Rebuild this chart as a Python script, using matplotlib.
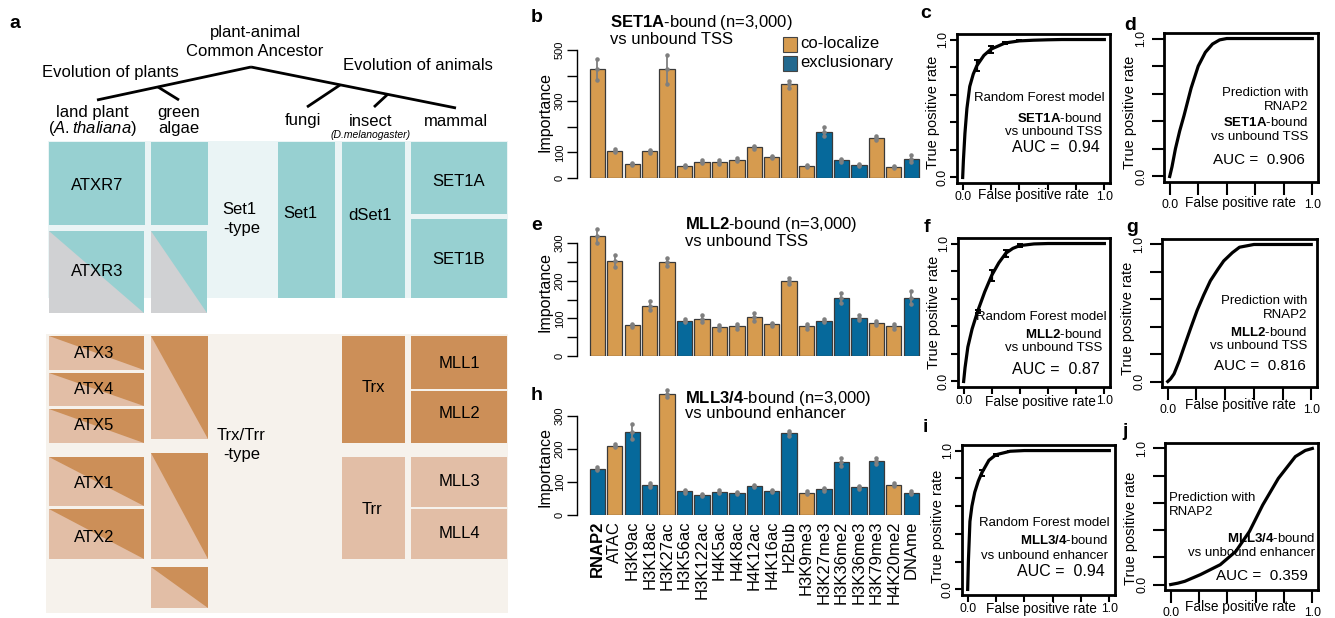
import matplotlib
matplotlib.use('Agg')
import matplotlib.pyplot as plt
import matplotlib.patches as patches

plt.rcParams['font.family'] = ['Liberation Sans', 'DejaVu Sans']
plt.rcParams['mathtext.fontset'] = 'custom'
plt.rcParams['mathtext.rm'] = 'Liberation Sans'
plt.rcParams['mathtext.it'] = 'Liberation Sans:italic'
plt.rcParams['mathtext.bf'] = 'Liberation Sans:bold'

W, H = 1335, 618

# ---- bar chart data (b, e, h) ----
marks = ['RNAP2', 'ATAC', 'H3K9ac', 'H3K18ac', 'H3K27ac', 'H3K56ac', 'H3K122ac',
         'H4K5ac', 'H4K8ac', 'H4K12ac', 'H4K16ac', 'H2Bub', 'H3K9me3', 'H3K27me3',
         'H3K36me2', 'H3K36me3', 'H3K79me3', 'H4K20me2', 'DNAme']

set1a_imp = [424, 107, 56, 104, 424, 47, 64, 61, 72, 120, 82, 366, 47, 181, 69, 51, 155, 44, 76]
set1a_err = [42, 5, 4, 6, 55, 3, 5, 8, 5, 5, 5, 14, 3, 18, 6, 5, 8, 3, 13]
set1a_cls = ['c', 'c', 'c', 'c', 'c', 'c', 'c', 'c', 'c', 'c', 'c', 'c', 'c', 'x', 'x', 'x', 'c', 'c', 'x']

mll2_imp = [319, 251, 82, 134, 249, 94, 99, 76, 79, 103, 84, 200, 79, 94, 154, 102, 88, 79, 155]
mll2_err = [18, 16, 4, 11, 11, 5, 10, 6, 6, 10, 4, 8, 6, 5, 12, 7, 6, 7, 17]
mll2_cls = ['c', 'c', 'c', 'c', 'c', 'x', 'c', 'c', 'c', 'c', 'c', 'c', 'c', 'x', 'x', 'x', 'c', 'c', 'x']

mll34_imp = [141, 210, 253, 92, 367, 72, 62, 71, 67, 88, 73, 248, 68, 78, 162, 84, 164, 93, 68]
mll34_err = [5, 5, 24, 5, 11, 4, 3, 4, 3, 4, 4, 8, 4, 5, 12, 4, 10, 5, 4]
mll34_cls = ['x', 'c', 'x', 'x', 'c', 'x', 'x', 'x', 'x', 'x', 'x', 'x', 'c', 'x', 'x', 'x', 'x', 'c', 'x']

# ---- ROC data (c, d, f, g, i, j) ----
c_fpr = [0, 0.005, 0.016, 0.03, 0.05, 0.075, 0.1, 0.15, 0.2, 0.3, 0.4, 0.5, 0.6, 0.7, 0.8, 0.9, 1.0]
c_tpr = [0, 0.12, 0.32, 0.5, 0.66, 0.75, 0.81, 0.885, 0.93, 0.975, 0.99, 0.995, 0.998, 1.0, 1.0, 1.0, 1.0]
c_efpr = [0.1, 0.2, 0.3, 0.4, 0.5, 0.6, 0.7, 0.8, 0.9]
c_etpr = [0.81, 0.93, 0.975, 0.99, 0.995, 0.998, 1.0, 1.0, 1.0]
c_err = [0.04, 0.025, 0.008, 0.004, 0.0, 0.0, 0.0, 0.0, 0.0]

d_fpr = [0, 0.016, 0.04, 0.07, 0.1, 0.15, 0.2, 0.25, 0.3, 0.35, 0.4, 0.5, 0.7, 1.0]
d_tpr = [0, 0.07, 0.2, 0.33, 0.44, 0.64, 0.8, 0.9, 0.96, 0.99, 1.0, 1.0, 1.0, 1.0]

f_fpr = [0, 0.01, 0.03, 0.06, 0.1, 0.15, 0.2, 0.25, 0.3, 0.35, 0.4, 0.5, 0.6, 0.8, 1.0]
f_tpr = [0, 0.1, 0.25, 0.38, 0.51, 0.65, 0.77, 0.86, 0.93, 0.965, 0.985, 0.997, 1.0, 1.0, 1.0]
f_efpr = [0.1, 0.2, 0.3, 0.4, 0.5, 0.6, 0.7, 0.8, 0.9]
f_etpr = [0.51, 0.77, 0.93, 0.985, 0.997, 1.0, 1.0, 1.0, 1.0]
f_err = [0.01, 0.04, 0.025, 0.01, 0.0, 0.0, 0.0, 0.0, 0.0]

g_fpr = [0, 0.02, 0.044, 0.08, 0.113, 0.16, 0.205, 0.25, 0.297, 0.35, 0.39, 0.45, 0.5, 0.6, 0.8, 1.0]
g_tpr = [0, 0.02, 0.056, 0.15, 0.25, 0.39, 0.52, 0.63, 0.735, 0.82, 0.88, 0.94, 0.98, 1.0, 1.0, 1.0]

i_fpr = [0, 0.005, 0.016, 0.03, 0.05, 0.075, 0.1, 0.15, 0.2, 0.3, 0.4, 0.6, 0.8, 1.0]
i_tpr = [0, 0.2, 0.49, 0.6, 0.70, 0.78, 0.84, 0.93, 0.97, 0.995, 1.0, 1.0, 1.0, 1.0]
i_efpr = [0.1, 0.2, 0.3, 0.4, 0.5, 0.6, 0.7, 0.8, 0.9]
i_etpr = [0.84, 0.97, 0.995, 1.0, 1.0, 1.0, 1.0, 1.0, 1.0]
i_err = [0.02, 0.008, 0.0, 0.0, 0.0, 0.0, 0.0, 0.0, 0.0]

j_fpr = [0, 0.05, 0.1, 0.21, 0.35, 0.46, 0.556, 0.65, 0.76, 0.88, 0.95, 1.0]
j_tpr = [0, 0.01, 0.024, 0.073, 0.146, 0.244, 0.39, 0.585, 0.78, 0.94, 0.985, 1.0]

ORANGE = '#d69b4f'
BLUE = '#06699b'
TEAL = '#97d0d1'
GREY = '#d0d1d3'
DARK_OR = '#cc8f58'
LIGHT_OR = '#e2bea6'

fig = plt.figure(figsize=(W / 100, H / 100), dpi=100)


def add_px_axes(l, t, r, b):
    return fig.add_axes([l / W, 1 - b / H, (r - l) / W, (b - t) / H])


def bar_panel(t, b, ymax, imp, err, cls, yticks, ylabels, show_x):
    ax = add_px_axes(577.3, t, 921.7, b)
    x = list(range(len(imp)))
    cols = [ORANGE if c == 'c' else BLUE for c in cls]
    ax.bar(x, imp, width=0.88, color=cols, edgecolor='#3a3a3a', linewidth=0.9, zorder=2)
    ax.errorbar(x, imp, yerr=err, fmt='none', ecolor='#7f7f7f', elinewidth=1.3,
                zorder=3, clip_on=False)
    lo = [v - e for v, e in zip(imp, err)]
    hi = [v + e for v, e in zip(imp, err)]
    ax.scatter(x * 3, lo + imp + hi, s=5, color='#7f7f7f', zorder=4, clip_on=False)
    ax.set_xlim(-1.15, 18.6)
    ax.set_ylim(0, ymax)
    for s in ['top', 'right', 'bottom']:
        ax.spines[s].set_visible(False)
    ax.spines['left'].set_bounds(0, yticks[-1])
    ax.spines['left'].set_linewidth(1)
    ax.set_yticks(yticks)
    ax.set_yticklabels(ylabels, fontsize=8)
    for lab in ax.get_yticklabels():
        lab.set_rotation(90)
        lab.set_va('center')
    ax.tick_params(axis='y', length=7, width=1, pad=2)
    ax.set_facecolor('none')
    if show_x:
        ax.set_xticks(x)
        ax.set_xticklabels(marks, rotation=90, fontsize=12, va='top')
        ax.get_xticklabels()[0].set_fontweight('bold')
        ax.tick_params(axis='x', length=0, pad=4)
    else:
        ax.set_xticks([])
    return ax


def roc_panel(box, fpr, tpr, efpr=None, etpr=None, err=None, tick_len=5, pad=1):
    ax = add_px_axes(*box)
    ax.plot(fpr, tpr, color='black', lw=2.3, zorder=3)
    if err is not None:
        ax.errorbar(efpr, etpr, yerr=err, fmt='none', ecolor='black', elinewidth=1.6,
                    capsize=2, capthick=1.4, zorder=4)
    ax.set_xlim(-0.04, 1.04)
    ax.set_ylim(-0.04, 1.04)
    for s in ax.spines.values():
        s.set_linewidth(2)
    ticks = [0, 0.2, 0.4, 0.6, 0.8, 1.0]
    labs = ['0.0', '', '', '', '', '1.0']
    ax.set_xticks(ticks)
    ax.set_xticklabels(labs, fontsize=8.8)
    ax.set_yticks(ticks)
    ax.set_yticklabels(labs, fontsize=8.8)
    for lab in ax.get_yticklabels():
        lab.set_rotation(90)
        lab.set_va('center')
    ax.tick_params(length=tick_len, width=1.5, pad=pad)
    ax.set_facecolor('none')
    return ax


bar_panel(50, 178, 500, set1a_imp, set1a_err, set1a_cls,
          [0, 100, 200, 300, 400, 500], ['0', '100', '', '300', '', '500'], False)
bar_panel(231.7, 356, 330, mll2_imp, mll2_err, mll2_cls,
          [0, 50, 100, 150, 200, 250, 300], ['0', '', '100', '', '200', '', '300'], False)
bar_panel(386.2, 515.3, 390, mll34_imp, mll34_err, mll34_cls,
          [0, 100, 200, 300], ['0', '100', '200', '300'], True)

roc_panel((957, 34, 1110, 183), c_fpr, c_tpr, c_efpr, c_etpr, c_err)
roc_panel((1164, 33, 1318, 182), d_fpr, d_tpr, tick_len=9, pad=3)
roc_panel((958, 238, 1110, 387), f_fpr, f_tpr, f_efpr, f_etpr, f_err)
roc_panel((1162, 239, 1317, 387), g_fpr, g_tpr, tick_len=9, pad=3)
roc_panel((962, 445, 1115, 595), i_fpr, i_tpr, i_efpr, i_etpr, i_err)
roc_panel((1165, 443, 1318, 590), j_fpr, j_tpr, tick_len=9, pad=3)

# overlay in pixel coordinates: panel a drawing and all free text
ov = fig.add_axes([0, 0, 1, 1])
ov.set_xlim(0, W)
ov.set_ylim(H, 0)
ov.axis('off')
ov.set_facecolor('none')


def rect(l, t, r, b, color):
    ov.add_patch(patches.Rectangle((l, t), r - l, b - t, facecolor=color, edgecolor='none'))


def split_box(l, t, r, b, base, tri, lower_left):
    rect(l, t, r, b, base)
    if lower_left:
        pts = [(l, t), (l, b), (r, b)]
    else:
        pts = [(l, t), (r, t), (r, b)]
    ov.add_patch(patches.Polygon(pts, closed=True, facecolor=tri, edgecolor='none'))


def txt(x, y, s, size=12, ha='center', **kw):
    ov.text(x, y, s, fontsize=size, ha=ha, va='center', **kw)


# tree
tree = [((97, 100), (251, 67)), ((251, 67), (456, 108)), ((158, 87), (179, 100)),
        ((340, 85), (307, 107)), ((388, 94), (374, 107))]
for (x0, y0), (x1, y1) in tree:
    ov.plot([x0, x1], [y0, y1], color='black', lw=2, solid_capstyle='butt')

# Set1-type block
rect(48, 141, 508, 298, '#eaf4f5')
rect(49, 142, 145, 225, TEAL)
split_box(49, 231, 144, 313, TEAL, GREY, True)
rect(151, 142, 208, 225, TEAL)
split_box(151, 231, 207, 313, TEAL, GREY, True)
rect(278, 142, 335, 298, TEAL)
rect(342, 142, 405, 298, TEAL)
rect(411, 142, 507, 214, TEAL)
rect(411, 219, 507, 298, TEAL)

# Trx/Trr-type block
rect(46, 334, 508, 613, '#f6f2ec')
for t, b in [(336, 370), (373, 406), (409, 443), (457, 506), (509, 559)]:
    split_box(49, t, 144, b, LIGHT_OR, DARK_OR, False)
for t, b in [(336, 439), (453, 559), (567, 608)]:
    split_box(151, t, 208, b, LIGHT_OR, DARK_OR, False)
rect(342, 336, 405, 443, DARK_OR)
rect(342, 457, 405, 559, LIGHT_OR)
rect(411, 336, 507, 389, DARK_OR)
rect(411, 391, 507, 443, DARK_OR)
rect(411, 457, 507, 507, LIGHT_OR)
rect(411, 509, 507, 559, LIGHT_OR)

# panel a text
txt(255, 33, 'plant-animal')
txt(255, 51, 'Common Ancestor')
txt(110, 72, 'Evolution of plants')
txt(418, 66, 'Evolution of animals')
txt(92, 112, 'land plant')
txt(92, 128, r'($\mathit{A.thaliana}$)')
txt(179, 112, 'green')
txt(179, 128, 'algae')
txt(303, 121, 'fungi')
txt(371, 121, 'insect')
txt(371, 135, '(D.melanogaster)', size=7.5, style='italic')
txt(456, 121, 'mammal')
txt(97, 185, 'ATXR7')
txt(97, 271, 'ATXR3')
txt(222, 209, 'Set1', ha='left')
txt(223, 228, '-type', ha='left')
txt(283, 214, 'Set1', ha='left')
txt(348, 215, 'dSet1', ha='left')
txt(459, 181, 'SET1A')
txt(459, 259, 'SET1B')
for name, y in [('ATX3', 354), ('ATX4', 389), ('ATX5', 426), ('ATX1', 483), ('ATX2', 537)]:
    txt(94, y, name)
txt(217, 435, 'Trx/Trr', ha='left')
txt(223, 454, '-type', ha='left')
txt(373, 387, 'Trx')
txt(372, 510, 'Trr')
txt(459, 364, 'MLL1')
txt(459, 413, 'MLL2')
txt(459, 482, 'MLL3')
txt(459, 533, 'MLL4')

# panel letters
for s, x, y in [('a', 15, 24), ('b', 537, 18), ('c', 926, 14), ('d', 1130, 25),
                ('e', 537, 225), ('f', 927, 227), ('g', 1132, 228),
                ('h', 537, 395), ('i', 925, 428), ('j', 1125, 432)]:
    txt(x, y, s, size=14, fontweight='bold')

# bar panel titles, legend, axis labels
txt(610, 22, r'$\bf{SET1A}$-bound (n=3,000)', ha='left')
txt(610, 39, 'vs unbound TSS', ha='left')
txt(685, 224, r'$\bf{MLL2}$-bound (n=3,000)', ha='left')
txt(685, 242, 'vs unbound TSS', ha='left')
txt(685, 398, r'$\bf{MLL3/4}$-bound (n=3,000)', ha='left')
txt(685, 414, 'vs unbound enhancer', ha='left')
ov.add_patch(patches.Rectangle((783, 37), 14, 15, facecolor=ORANGE, edgecolor='#444444', lw=0.8))
ov.add_patch(patches.Rectangle((783, 56), 14, 15, facecolor='#23698f', edgecolor='#444444', lw=0.8))
txt(800, 44, 'co-localize', ha='left')
txt(800, 63, 'exclusionary', ha='left')
for y in [112, 292, 467]:
    txt(545, y, 'Importance', size=11.5, rotation=90)

# ROC axis labels
for x, y in [(1033, 195), (1240, 203), (1040, 402), (1240, 405), (1041, 609), (1240, 607)]:
    txt(x, y, 'False positive rate', size=9.8)
for x, y in [(933, 112), (1130, 112), (934, 312), (1128, 318), (938, 526), (1131, 528)]:
    txt(x, y, 'True positive rate', size=10.5, rotation=90)

S = 9.5
txt(1105, 98, 'Random Forest model', size=S, ha='right')
txt(1102, 118, r'$\bf{SET1A}$-bound', size=S, ha='right')
txt(1102, 132, 'vs unbound TSS', size=S, ha='right')
txt(1100, 148, 'AUC =  0.94', size=11.5, ha='right')

txt(1308, 93, 'Prediction with', size=S, ha='right')
txt(1308, 107, 'RNAP2', size=S, ha='right')
txt(1308, 123, r'$\bf{SET1A}$-bound', size=S, ha='right')
txt(1308, 137, 'vs unbound TSS', size=S, ha='right')
txt(1305, 160, 'AUC =  0.906', size=11, ha='right')

txt(1107, 317, 'Random Forest model', size=S, ha='right')
txt(1102, 334, r'$\bf{MLL2}$-bound', size=S, ha='right')
txt(1102, 348, 'vs unbound TSS', size=S, ha='right')
txt(1100, 370, 'AUC =  0.87', size=11.5, ha='right')

txt(1307, 301, 'Prediction with', size=S, ha='right')
txt(1307, 315, 'RNAP2', size=S, ha='right')
txt(1307, 333, r'$\bf{MLL2}$-bound', size=S, ha='right')
txt(1307, 346, 'vs unbound TSS', size=S, ha='right')
txt(1306, 366, 'AUC =  0.816', size=11, ha='right')

txt(1110, 523, 'Random Forest model', size=S, ha='right')
txt(1108, 540, r'$\bf{MLL3/4}$-bound', size=S, ha='right')
txt(1108, 556, 'vs unbound enhancer', size=S, ha='right')
txt(1105, 571, 'AUC =  0.94', size=11.5, ha='right')

txt(1169, 498, 'Prediction with', size=S, ha='left')
txt(1169, 512, 'RNAP2', size=S, ha='left')
txt(1315, 539, r'$\bf{MLL3/4}$-bound', size=S, ha='right')
txt(1315, 553, 'vs unbound enhancer', size=S, ha='right')
txt(1308, 576, 'AUC =  0.359', size=11, ha='right')

fig.savefig('out.png', dpi=100, facecolor='white')
